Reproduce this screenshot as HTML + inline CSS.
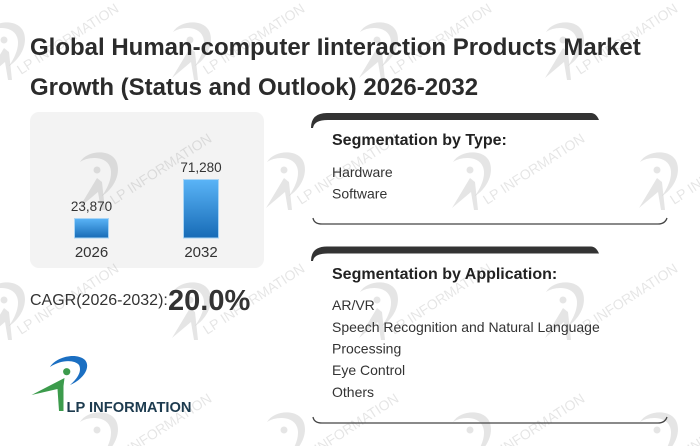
<!DOCTYPE html>
<html>
<head>
<meta charset="utf-8">
<style>
html,body{margin:0;padding:0;background:#fff;width:700px;height:446px;overflow:hidden;}
svg{display:block;overflow:hidden;}
text{font-family:"Liberation Sans",Arial,sans-serif;}
</style>
</head>
<body>
<svg width="700" height="446" viewBox="0 0 700 446" xmlns="http://www.w3.org/2000/svg">
<defs>
<linearGradient id="bg" x1="0" y1="0" x2="0" y2="1">
<stop offset="0" stop-color="#5ab4f7"/>
<stop offset="1" stop-color="#176bb6"/>
</linearGradient>
<clipPath id="frame"><rect x="0" y="0" width="700" height="446"/></clipPath>
</defs>
<rect width="700" height="446" fill="#fff"/>

<!-- grey chart box -->
<rect x="30" y="112" width="234" height="156" rx="9" fill="#f3f3f3"/>

<!-- watermarks -->
<g fill="#000" fill-opacity="0.10" clip-path="url(#frame)">
<g transform="translate(4,40)"><path d="M-17,-8 C-10,-20 15,-22 20,-7 C24,6 15,20 5,26 C12,16 16,5 13,-3 C9,-14 -8,-14 -17,-8 Z"/><circle r="3.5"/><path d="M-18,38 L0,8 L5,12 L8,40 L4,40 L1,22 Z"/><text x="17" y="35" transform="rotate(-33 17 35)" font-size="14">LP INFORMATION</text></g>
<g transform="translate(190,40)"><path d="M-17,-8 C-10,-20 15,-22 20,-7 C24,6 15,20 5,26 C12,16 16,5 13,-3 C9,-14 -8,-14 -17,-8 Z"/><circle r="3.5"/><path d="M-18,38 L0,8 L5,12 L8,40 L4,40 L1,22 Z"/><text x="17" y="35" transform="rotate(-33 17 35)" font-size="14">LP INFORMATION</text></g>
<g transform="translate(377,40)"><path d="M-17,-8 C-10,-20 15,-22 20,-7 C24,6 15,20 5,26 C12,16 16,5 13,-3 C9,-14 -8,-14 -17,-8 Z"/><circle r="3.5"/><path d="M-18,38 L0,8 L5,12 L8,40 L4,40 L1,22 Z"/><text x="17" y="35" transform="rotate(-33 17 35)" font-size="14">LP INFORMATION</text></g>
<g transform="translate(563,40)"><path d="M-17,-8 C-10,-20 15,-22 20,-7 C24,6 15,20 5,26 C12,16 16,5 13,-3 C9,-14 -8,-14 -17,-8 Z"/><circle r="3.5"/><path d="M-18,38 L0,8 L5,12 L8,40 L4,40 L1,22 Z"/><text x="17" y="35" transform="rotate(-33 17 35)" font-size="14">LP INFORMATION</text></g>

<g transform="translate(97,170)"><path d="M-17,-8 C-10,-20 15,-22 20,-7 C24,6 15,20 5,26 C12,16 16,5 13,-3 C9,-14 -8,-14 -17,-8 Z"/><circle r="3.5"/><path d="M-18,38 L0,8 L5,12 L8,40 L4,40 L1,22 Z"/><text x="17" y="35" transform="rotate(-33 17 35)" font-size="14">LP INFORMATION</text></g>
<g transform="translate(284,170)"><path d="M-17,-8 C-10,-20 15,-22 20,-7 C24,6 15,20 5,26 C12,16 16,5 13,-3 C9,-14 -8,-14 -17,-8 Z"/><circle r="3.5"/><path d="M-18,38 L0,8 L5,12 L8,40 L4,40 L1,22 Z"/><text x="17" y="35" transform="rotate(-33 17 35)" font-size="14">LP INFORMATION</text></g>
<g transform="translate(470,170)"><path d="M-17,-8 C-10,-20 15,-22 20,-7 C24,6 15,20 5,26 C12,16 16,5 13,-3 C9,-14 -8,-14 -17,-8 Z"/><circle r="3.5"/><path d="M-18,38 L0,8 L5,12 L8,40 L4,40 L1,22 Z"/><text x="17" y="35" transform="rotate(-33 17 35)" font-size="14">LP INFORMATION</text></g>
<g transform="translate(657,170)"><path d="M-17,-8 C-10,-20 15,-22 20,-7 C24,6 15,20 5,26 C12,16 16,5 13,-3 C9,-14 -8,-14 -17,-8 Z"/><circle r="3.5"/><path d="M-18,38 L0,8 L5,12 L8,40 L4,40 L1,22 Z"/><text x="17" y="35" transform="rotate(-33 17 35)" font-size="14">LP INFORMATION</text></g>

<g transform="translate(4,300)"><path d="M-17,-8 C-10,-20 15,-22 20,-7 C24,6 15,20 5,26 C12,16 16,5 13,-3 C9,-14 -8,-14 -17,-8 Z"/><circle r="3.5"/><path d="M-18,38 L0,8 L5,12 L8,40 L4,40 L1,22 Z"/><text x="17" y="35" transform="rotate(-33 17 35)" font-size="14">LP INFORMATION</text></g>
<g transform="translate(190,300)"><path d="M-17,-8 C-10,-20 15,-22 20,-7 C24,6 15,20 5,26 C12,16 16,5 13,-3 C9,-14 -8,-14 -17,-8 Z"/><circle r="3.5"/><path d="M-18,38 L0,8 L5,12 L8,40 L4,40 L1,22 Z"/><text x="17" y="35" transform="rotate(-33 17 35)" font-size="14">LP INFORMATION</text></g>
<g transform="translate(377,300)"><path d="M-17,-8 C-10,-20 15,-22 20,-7 C24,6 15,20 5,26 C12,16 16,5 13,-3 C9,-14 -8,-14 -17,-8 Z"/><circle r="3.5"/><path d="M-18,38 L0,8 L5,12 L8,40 L4,40 L1,22 Z"/><text x="17" y="35" transform="rotate(-33 17 35)" font-size="14">LP INFORMATION</text></g>
<g transform="translate(563,300)"><path d="M-17,-8 C-10,-20 15,-22 20,-7 C24,6 15,20 5,26 C12,16 16,5 13,-3 C9,-14 -8,-14 -17,-8 Z"/><circle r="3.5"/><path d="M-18,38 L0,8 L5,12 L8,40 L4,40 L1,22 Z"/><text x="17" y="35" transform="rotate(-33 17 35)" font-size="14">LP INFORMATION</text></g>

<g transform="translate(97,430)"><path d="M-17,-8 C-10,-20 15,-22 20,-7 C24,6 15,20 5,26 C12,16 16,5 13,-3 C9,-14 -8,-14 -17,-8 Z"/><circle r="3.5"/><text x="17" y="35" transform="rotate(-33 17 35)" font-size="14">LP INFORMATION</text></g>
<g transform="translate(284,430)"><path d="M-17,-8 C-10,-20 15,-22 20,-7 C24,6 15,20 5,26 C12,16 16,5 13,-3 C9,-14 -8,-14 -17,-8 Z"/><circle r="3.5"/><text x="17" y="35" transform="rotate(-33 17 35)" font-size="14">LP INFORMATION</text></g>
<g transform="translate(470,430)"><path d="M-17,-8 C-10,-20 15,-22 20,-7 C24,6 15,20 5,26 C12,16 16,5 13,-3 C9,-14 -8,-14 -17,-8 Z"/><circle r="3.5"/><text x="17" y="35" transform="rotate(-33 17 35)" font-size="14">LP INFORMATION</text></g>
<g transform="translate(657,430)"><path d="M-17,-8 C-10,-20 15,-22 20,-7 C24,6 15,20 5,26 C12,16 16,5 13,-3 C9,-14 -8,-14 -17,-8 Z"/><circle r="3.5"/><text x="17" y="35" transform="rotate(-33 17 35)" font-size="14">LP INFORMATION</text></g>
</g>

<!-- title -->
<text x="30" y="55" font-size="24" font-weight="bold" fill="#2b2b2b">Global Human-computer Iinteraction Products Market</text>
<text x="30" y="95" font-size="24" font-weight="bold" fill="#2b2b2b">Growth (Status and Outlook) 2026-2032</text>

<!-- bars -->
<rect x="74.5" y="218.5" width="34" height="19.5" fill="url(#bg)" stroke="#a9d5f5" stroke-width="1"/>
<rect x="183.5" y="179.5" width="35" height="58.5" fill="url(#bg)" stroke="#a9d5f5" stroke-width="1"/>
<text x="91.5" y="211" font-size="13.5" fill="#333" text-anchor="middle">23,870</text>
<text x="201" y="172" font-size="13.5" fill="#333" text-anchor="middle">71,280</text>
<text x="91.5" y="257" font-size="15" fill="#333" text-anchor="middle">2026</text>
<text x="201" y="257" font-size="15" fill="#333" text-anchor="middle">2032</text>

<!-- CAGR -->
<text x="30" y="305" font-size="16" fill="#333">CAGR(2026-2032):</text>
<text x="168" y="310" font-size="29" font-weight="bold" fill="#333">20.0%</text>

<!-- box 1 -->
<path d="M311,128 Q311,113 327,113 L591,113 Q596,113 599,120 L328,120 Q314,120 313,128 Z" fill="#333"/>
<path d="M313,218 Q314,224 322,224 L658,224 Q665,224 667,218" fill="none" stroke="#444" stroke-width="1.3"/>
<text x="332" y="145" font-size="16" font-weight="bold" fill="#222">Segmentation by Type:</text>
<text x="332" y="177" font-size="14" fill="#333">Hardware</text>
<text x="332" y="198.5" font-size="14" fill="#333">Software</text>

<!-- box 2 -->
<path d="M311,261 Q311,246.5 327,246.5 L591,246.5 Q596,246.5 599,253.5 L328,253.5 Q314,253.5 313,261 Z" fill="#333"/>
<path d="M313,417 Q314,423 322,423 L658,423 Q665,423 667,417" fill="none" stroke="#444" stroke-width="1.3"/>
<text x="332" y="279" font-size="16" font-weight="bold" fill="#222">Segmentation by Application:</text>
<text x="332" y="310" font-size="14" fill="#333">AR/VR</text>
<text x="332" y="332" font-size="14" fill="#333">Speech Recognition and Natural Language</text>
<text x="332" y="353.5" font-size="14" fill="#333">Processing</text>
<text x="332" y="375" font-size="14" fill="#333">Eye Control</text>
<text x="332" y="397" font-size="14" fill="#333">Others</text>

<!-- logo -->
<path d="M50,367 C56,357 76,352 85,360 C91,367 84,379 70,385 C78,378 82,371 79,365 C75,360 62,359 50,367 Z" fill="#1b6fc2"/>
<circle cx="66.7" cy="371.7" r="3.6" fill="#3c9b4c"/>
<path d="M31.5,395 L64.5,378 L63.5,386 L63.5,411 L59,411 L57.5,389 Z" fill="#3c9b4c"/>
<text x="66.5" y="412" font-size="15" font-weight="bold" fill="#1d3b4f" textLength="125" lengthAdjust="spacingAndGlyphs">LP INFORMATION</text>
</svg>
</body>
</html>
